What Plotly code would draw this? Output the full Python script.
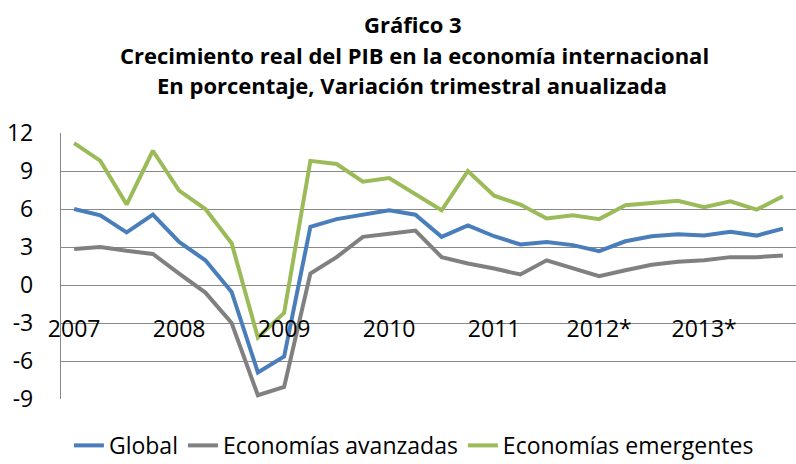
import plotly.graph_objects as go

years = ["2007", "2008", "2009", "2010", "2011", "2012", "2013"]
quarters = ["T1", "T2", "T3", "T4"]
categories = [y + q for y in years for q in quarters]

global_vals = [6.0, 5.5, 4.15, 5.55, 3.4, 1.95, -0.55, -6.9, -5.65, 4.6,
               5.2, 5.55, 5.9, 5.55, 3.8, 4.7, 3.85, 3.2, 3.4, 3.15,
               2.67, 3.45, 3.85, 4.0, 3.9, 4.2, 3.9, 4.45]
avanzadas_vals = [2.85, 3.0, 2.7, 2.45, 0.9, -0.6, -3.0, -8.7, -8.05, 0.9,
                  2.2, 3.8, 4.05, 4.3, 2.2, 1.7, 1.3, 0.83, 1.95, 1.3,
                  0.7, 1.17, 1.6, 1.83, 1.95, 2.2, 2.2, 2.33]
emergentes_vals = [11.2, 9.8, 6.35, 10.6, 7.45, 6.0, 3.3, -4.15, -2.2, 9.8,
                   9.55, 8.15, 8.45, 7.2, 5.9, 9.0, 7.05, 6.35, 5.25, 5.5,
                   5.2, 6.3, 6.5, 6.65, 6.15, 6.6, 5.95, 7.0]

tick_vals = [y + "T1" for y in years]
tick_text = ["2007", "2008", "2009", "2010", "2011", "2012*", "2013*"]
y_ticks = [12, 9, 6, 3, 0, -3, -6, -9]

series = [
    ("Global", global_vals, "#4A7EBB"),
    ("Economías avanzadas", avanzadas_vals, "#808080"),
    ("Economías emergentes", emergentes_vals, "#9BBB59"),
]

FONT = "Open Sans"
fig = go.Figure()
for name, vals, color in series:
    fig.add_trace(go.Scatter(x=categories, y=vals, mode="lines", name=name,
                             line=dict(color=color, width=4)))

title_lines = ["Gráfico 3",
               "Crecimiento real del PIB en la economía internacional",
               "En porcentaje, Variación trimestral anualizada"]
title_y = [1.41, 1.292, 1.18]
title_x = [(413 - 61) / 735, (414 - 61) / 735, (412 - 61) / 735]
for t, xx, yy in zip(title_lines, title_x, title_y):
    fig.add_annotation(text="<b>" + t + "</b>", x=xx, y=yy, xref="paper", yref="paper",
                       xanchor="center", yanchor="middle", showarrow=False,
                       font=dict(family=FONT, size=22, color="#000000"))

fig.update_layout(
    width=796, height=464,
    margin=dict(l=61, r=0, t=133, b=65, autoexpand=False),
    paper_bgcolor="white", plot_bgcolor="white",
    font=dict(family=FONT, size=23, color="#000000"),
    showlegend=True,
    legend=dict(orientation="h", x=0.52, xanchor="center", xref="container",
                y=0.04, yanchor="middle", yref="container",
                font=dict(family=FONT, size=23, color="#000000"),
                itemwidth=30, traceorder="normal"),
    xaxis=dict(type="category", categoryorder="array", categoryarray=categories,
               tickmode="array", tickvals=tick_vals, ticktext=tick_text,
               showgrid=False, zeroline=False, showline=False, ticks="",
               anchor="free", position=9 / 21, ticklabelstandoff=28,
               range=[-0.5, 27.5], automargin=False),
    yaxis=dict(range=[-9, 12], tickmode="array", tickvals=y_ticks,
               ticktext=[str(v) for v in y_ticks],
               showgrid=True, gridcolor="#888888", gridwidth=1.3,
               zeroline=False, showline=True, linecolor="#888888", linewidth=1.3,
               ticks="", ticklabelstandoff=22, automargin=False),
)

fig.write_html("out.html", config={"displayModeBar": False},
               post_script="document.body.style.margin='0';")
